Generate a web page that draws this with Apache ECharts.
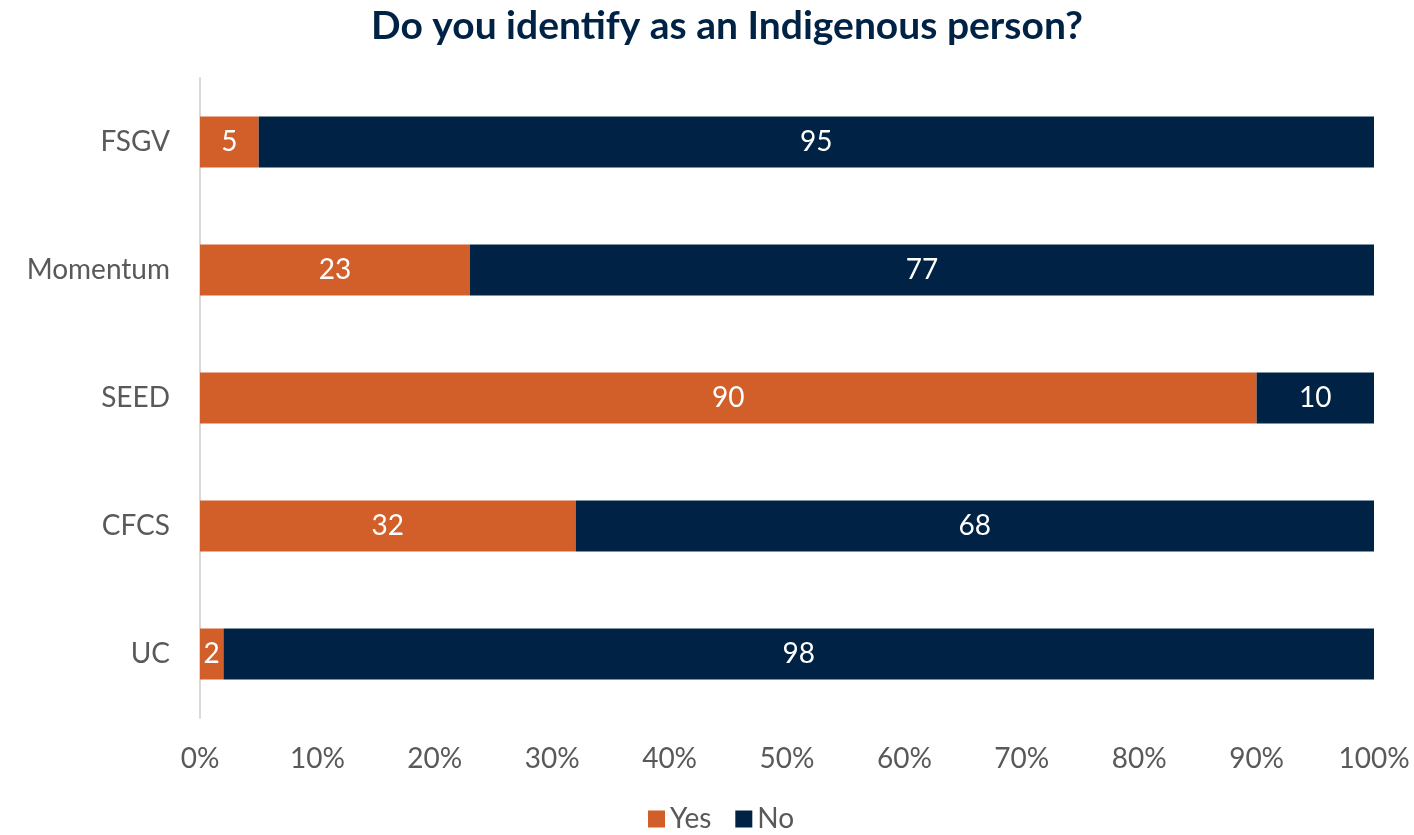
<!DOCTYPE html>
<html>
<head>
<meta charset="utf-8">
<script src="https://cdn.jsdelivr.net/npm/echarts@6/dist/echarts.min.js"></script>
<style>
  html, body { margin: 0; padding: 0; background: #fff; }
  #chart { width: 1414px; height: 835px; }
</style>
</head>
<body>
<div id="chart"></div>
<script>
// categories listed bottom-to-top (category axis is drawn from the bottom up)
const categories = ['UC', 'CFCS', 'SEED', 'Momentum', 'FSGV']
const yesValues = [2, 32, 90, 23, 5]
const noValues = [98, 68, 10, 77, 95]

const orange = '#D25F2A'
const navy = '#002244'
const font = 'Lato, "Open Sans", sans-serif'

var myChart = echarts.init(document.getElementById('chart'))

function barSeries(name, data, color) {
    return {
        name: name,
        type: 'bar',
        stack: 'total',
        data: data,
        barWidth: 51,
        itemStyle: { color: color },
        label: {
            show: true,
            position: 'inside',
            color: '#fff',
            fontSize: 28,
            fontFamily: font
        }
    }
}

var option = {
    animation: false,
    title: {
        text: 'Do you identify as an Indigenous person?',
        left: 366,
        top: 2,
        textStyle: { color: '#002244', fontSize: 39, fontWeight: 'bold', fontFamily: font }
    },
    legend: {
        bottom: -3,
        left: 643,
        itemWidth: 17,
        itemHeight: 17,
        itemGap: 24,
        icon: 'rect',
        textStyle: { color: '#595959', fontSize: 28, fontFamily: font },
        data: ['Yes', 'No']
    },
    grid: { left: 200, right: 40, top: 78, height: 640 },
    xAxis: {
        type: 'value',
        min: 0,
        max: 100,
        interval: 10,
        axisLabel: { formatter: '{value}%', color: '#595959', fontSize: 28, fontFamily: font, margin: 27 },
        splitLine: { show: false },
        axisLine: { show: false },
        axisTick: { show: false }
    },
    yAxis: {
        type: 'category',
        data: categories,
        axisLine: { show: true, lineStyle: { color: '#d9d9d9', width: 2 } },
        axisTick: { show: false },
        axisLabel: { color: '#595959', fontSize: 28, fontFamily: font, margin: 30 }
    },
    series: [
        barSeries('Yes', yesValues, orange),
        barSeries('No', noValues, navy)
    ]
}

myChart.setOption(option)
</script>
</body>
</html>
